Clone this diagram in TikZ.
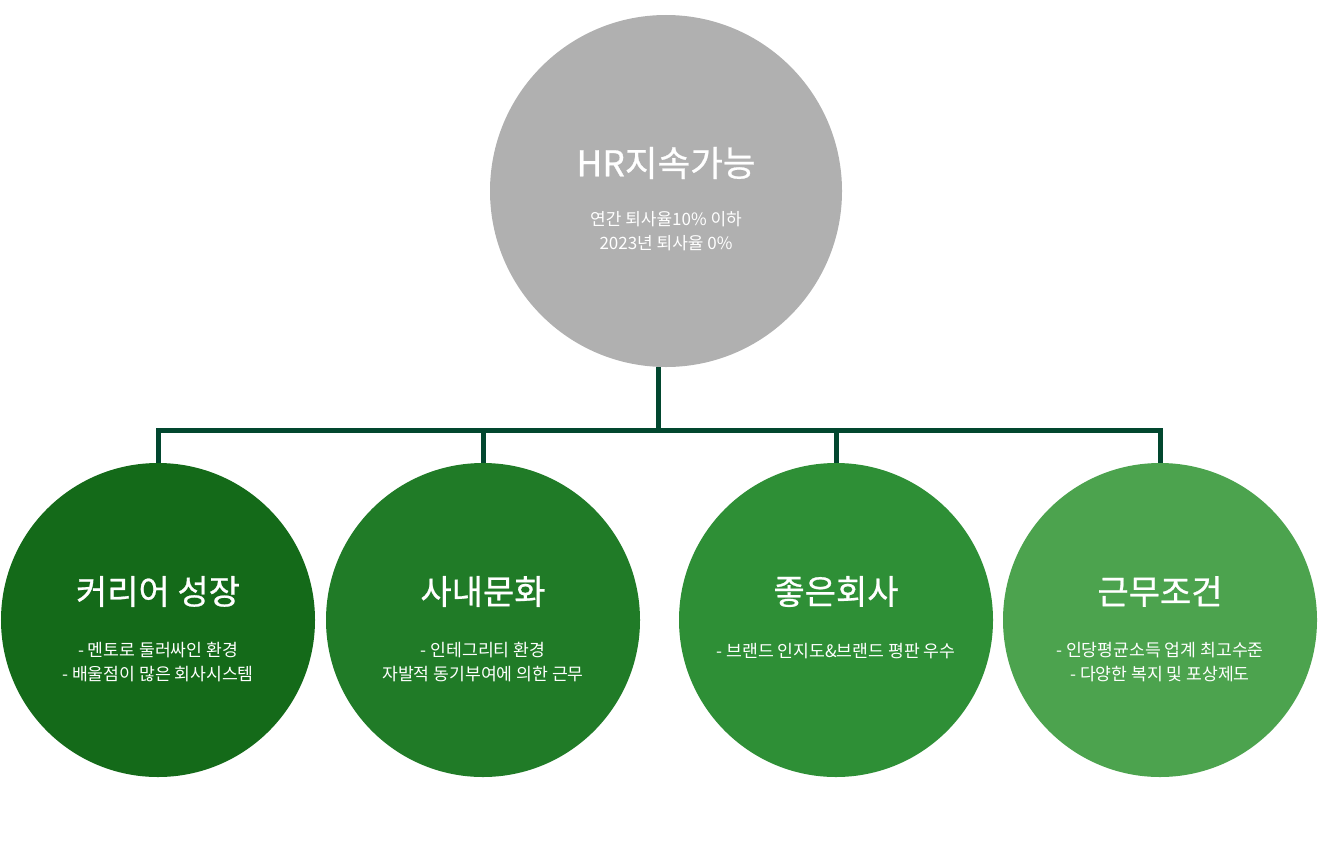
\documentclass[tikz,border=0pt]{standalone}
\usepackage{fontspec}
\setmainfont{Noto Sans CJK KR}
\newfontfamily\ttlfont[FakeBold=0.7]{Noto Sans CJK KR}
\usetikzlibrary{positioning}

\definecolor{hrgray}{HTML}{B0B0B0}
\definecolor{gone}{HTML}{146A19}
\definecolor{gtwo}{HTML}{207B27}
\definecolor{gthree}{HTML}{2E8F36}
\definecolor{gfour}{HTML}{4CA34E}
\definecolor{lngreen}{HTML}{02472F}

\begin{document}
\begin{tikzpicture}[x=1bp,y=-1bp,
  circ/.style={circle,inner sep=0pt,minimum size=314bp},
  ttl/.style={text=white,inner sep=0pt,font=\ttlfont\fontsize{34bp}{38bp}\selectfont},
  sub/.style={text=white,inner sep=0pt,align=center,font=\fontsize{17.2bp}{23.5bp}\selectfont},
  ln/.style={draw=lngreen,line width=5bp}]
\useasboundingbox (0,0) rectangle (1320,850);
% top circle
\node[circ,fill=hrgray,minimum size=352bp] (hr) at (666,191) {};
\node[ttl,font=\ttlfont\fontsize{35.5bp}{38bp}\selectfont] (hrt) at (666,163) {HR지속가능};
\node[sub,font=\fontsize{17bp}{24bp}\selectfont] (hrs) at (666,231.5) {연간 퇴사율10\% 이하\\2023년 퇴사율 0\%};
% four circles
\node[circ,fill=gone] (career) at (158,620) {};
\node[circ,fill=gtwo] (culture) at (483,620) {};
\node[circ,fill=gthree] (company) at (836,620) {};
\node[circ,fill=gfour] (work) at (1160,620) {};
\node[ttl] (careert) at (158,591.5) {커리어 성장};
\node[ttl] (culturet) at (483,591.5) {사내문화};
\node[ttl] (companyt) at (836,591.5) {좋은회사};
\node[ttl] (workt) at (1160,591.5) {근무조건};
\node[sub] (careers) at (158,662) {- 멘토로 둘러싸인 환경\\- 배울점이 많은 회사시스템};
\node[sub] (cultures) at (483,662) {- 인테그리티 환경\\자발적 동기부여에 의한 근무};
\node[sub] (companys) at (836,651) {- 브랜드 인지도\&브랜드 평판 우수};
\node[sub] (works) at (1160,662) {- 인당평균소득 업계 최고수준\\- 다양한 복지 및 포상제도};
% connectors
\coordinate (jn) at (658.5,430.5);
\coordinate (barl) at (156,430.5);
\coordinate (barr) at (1162.5,430.5);
\draw[ln] (hr.south -| jn) -- (jn);
\draw[ln] (barl) -- (barr);
\foreach \c in {career,culture,company,work} \draw[ln] (\c.north |- barl) -- (\c.north);
\end{tikzpicture}
\end{document}
